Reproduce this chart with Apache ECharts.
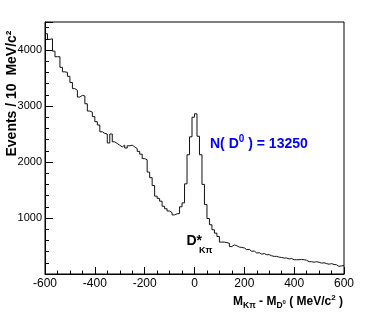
<!DOCTYPE html>
<html><head><meta charset="utf-8">
<script src="https://cdn.jsdelivr.net/npm/echarts@6/dist/echarts.min.js"></script>
<style>html,body{margin:0;padding:0;background:#fff}#c{width:374px;height:316px}</style>
</head><body><div id="c"></div>
<script>
// Histogram of M(Kpi) - M(D0), 10 MeV bins from -600 to 600
const binStart = -600;
const binWidth = 10;
const counts = [
  4290,4190,4200,3980,3880,3880,3690,3610,3600,3530,
  3420,3310,3280,3160,3190,3180,3040,2910,2890,2810,
  2720,2660,2540,2510,2500,2340,2500,2360,2330,2300,
  2270,2300,2250,2290,2300,2270,2240,2190,2140,2060,
  2040,1820,1720,1580,1390,1350,1300,1210,1165,1125,
  1095,1055,1075,1080,1200,1270,1610,2130,2450,2800,
  2860,2460,2130,1600,1240,990,880,790,730,670,
  570,570,560,550,490,520,505,480,475,465,
  435,440,405,410,375,380,355,365,345,345,
  325,315,315,300,295,285,285,270,275,255,
  255,255,260,255,245,220,220,210,220,210,
  195,200,185,175,185,170,165,135,145,150
];
const xTickLabels = [-600,-400,-200,0,200,400,600];
const yTickLabels = [1000,2000,3000,4000];
const yTitle = 'Events / 10  MeV/c\u00B2';
const fitLabel = '13250';

const points = counts.map((v, i) => [binStart + i * binWidth, v]);
points.push([binStart + counts.length * binWidth, counts[counts.length - 1]]);

const FF = '"Liberation Sans", Arial, Helvetica, sans-serif';
const chart = echarts.init(document.getElementById('c'), null, {renderer: 'canvas'});
chart.setOption({
  animation: false,
  backgroundColor: '#fff',
  grid: {left: 45, right: 30, top: 22, bottom: 42, show: true, borderColor: '#000', borderWidth: 1},
  xAxis: {
    type: 'value', min: -600, max: 600, interval: 200,
    axisLine: {show: true, onZero: false, lineStyle: {color: '#000', width: 1}},
    axisTick: {show: true, inside: true, length: 7, lineStyle: {color: '#000'}},
    minorTick: {show: true, splitNumber: 4, length: 3.5, lineStyle: {color: '#000'}},
    splitLine: {show: false},
    axisLabel: {color: '#000', fontSize: 12, fontFamily: FF, margin: 4,
      showMinLabel: true, showMaxLabel: true,
      formatter: v => xTickLabels.includes(v) ? String(v) : ''}
  },
  yAxis: [{
    type: 'value', min: 0, max: 4500, interval: 1000, position: 'left',
    axisLine: {show: true, onZero: false, lineStyle: {color: '#000', width: 1}},
    axisTick: {show: true, inside: true, length: 8, lineStyle: {color: '#000'}},
    splitLine: {show: false},
    axisLabel: {color: '#000', fontSize: 11, fontFamily: FF, margin: 3,
      showMinLabel: true, showMaxLabel: true,
      formatter: v => yTickLabels.includes(v) ? String(v) : ''}
  }, {
    type: 'value', min: 0, max: 4500, interval: 200, position: 'left',
    axisLine: {show: false, onZero: false},
    axisTick: {show: true, inside: true, length: 4, lineStyle: {color: '#000'}},
    splitLine: {show: false},
    axisLabel: {show: false}
  }],
  series: [{
    type: 'line', step: 'end', data: points, symbol: 'none',
    xAxisIndex: 0, yAxisIndex: 0,
    lineStyle: {color: '#111', width: 1}
  }],
  graphic: [
    {type: 'text', x: 11.8, y: 93.5, rotation: Math.PI / 2,
      style: {text: yTitle, font: 'bold 14px ' + FF, fill: '#000', align: 'center', verticalAlign: 'middle'}},
    {type: 'text', x: 343, y: 301.8,
      style: {
        text: '{m|M}{sb|K\u03C0}{m| - M}{sb|D}{ss|0}{m| ( MeV/c}{sp|2}{m| )}',
        align: 'right', verticalAlign: 'middle',
        rich: {
          m: {fontSize: 12, fontWeight: 'bold', fontFamily: FF, fill: '#000', lineHeight: 20},
          sb: {fontSize: 8.5, fontWeight: 'bold', fontFamily: FF, fill: '#000', lineHeight: 20, padding: [8, 0, 0, 0]},
          ss: {fontSize: 6, fontWeight: 'bold', fontFamily: FF, fill: '#000', lineHeight: 20, padding: [2, 0, 0, 0]},
          sp: {fontSize: 8, fontWeight: 'bold', fontFamily: FF, fill: '#000', lineHeight: 20, padding: [0, 0, 8, 0]}
        }
      }},
    {type: 'text', x: 210, y: 143.9,
      style: {
        text: '{m|N( D}{sp|0}{m| ) = ' + fitLabel + '}',
        align: 'left', verticalAlign: 'middle',
        rich: {
          m: {fontSize: 14, fontWeight: 'bold', fontFamily: FF, fill: '#0000ff', lineHeight: 20},
          sp: {fontSize: 10, fontWeight: 'bold', fontFamily: FF, fill: '#0000ff', lineHeight: 20, padding: [0, 0, 10, 0]}
        }
      }},
    {type: 'text', x: 186.5, y: 241.6,
      style: {text: 'D*', font: 'bold 14px ' + FF, fill: '#000', align: 'left', verticalAlign: 'middle'}},
    {type: 'text', x: 199, y: 250.5,
      style: {text: 'K\u03C0', font: 'bold 9px ' + FF, fill: '#000', align: 'left', verticalAlign: 'middle'}}
  ]
});
</script>
</body></html>
